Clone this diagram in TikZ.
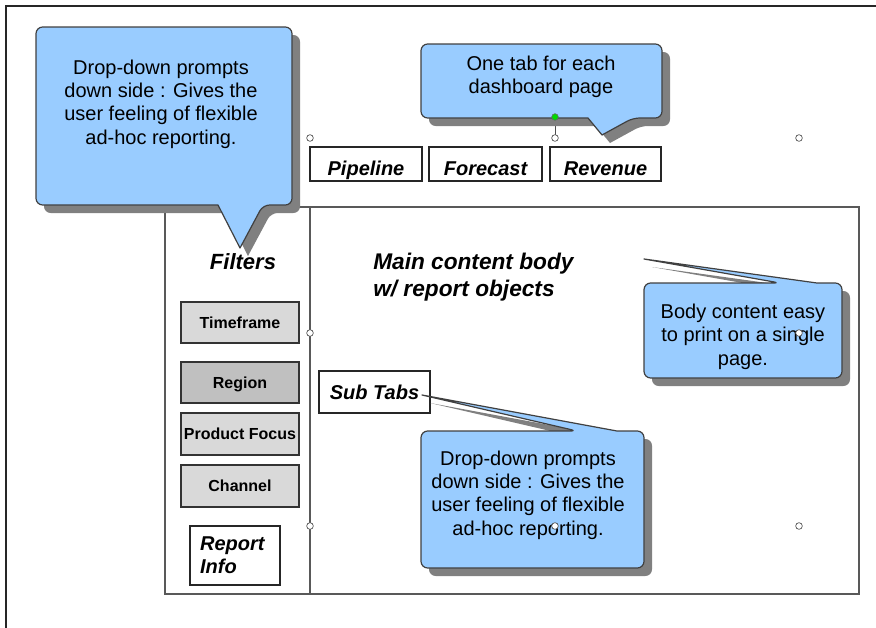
\documentclass[tikz,border=0pt]{standalone}
\usepackage{fontspec}
\setmainfont{Liberation Sans}
\definecolor{callblue}{HTML}{99CCFF}
\definecolor{shadowgray}{HTML}{808080}
\definecolor{btnlight}{HTML}{D9D9D9}
\definecolor{btndark}{HTML}{C0C0C0}
\definecolor{edge}{HTML}{404040}
\tikzset{
  callout/.style={draw=edge, line width=0.9pt, fill=callblue, line join=round},
  calloutshadow/.style={fill=shadowgray, draw=none},
  calltext/.style={align=center, font=\fontsize{15}{17.5}\selectfont, inner sep=0pt},
  tabbox/.style={draw=black!85, line width=0.8pt, fill=white, inner sep=0pt,
    font=\fontsize{15}{17}\selectfont\bfseries\itshape},
  btn/.style={draw=black!80, line width=0.9pt, fill=btnlight, inner sep=0pt,
    minimum width=88.5pt, text height=8.7pt, text depth=0pt,
    font=\fontsize{12}{14}\selectfont\bfseries},
  handle/.style={circle, draw=black!70, fill=white, line width=0.5pt, inner sep=0pt, minimum size=5pt},
}
\begin{document}
\begin{tikzpicture}[x=0.75pt,y=-0.75pt]
\useasboundingbox (0,0) rectangle (876,628);
% outer frame (only top and left visible)
\draw[line width=1.6pt, black!85] (876,6) -- (6,6) -- (6,628);
% main content rectangle and divider
\draw[line width=1pt, black!65] (165,207) rectangle (859,594);
\draw[line width=1pt, black!65] (310,207) -- (310,594);

% tabs
\node[tabbox, minimum width=84pt, minimum height=25.5pt, text height=17pt, text depth=0pt] (pipe) at (366,164) {Pipeline};
\node[tabbox, minimum width=84.75pt, minimum height=25.5pt, text height=17pt, text depth=0pt] (fore) at (485.5,164) {Forecast};
\node[tabbox, minimum width=83.25pt, minimum height=25.5pt, text height=17pt, text depth=0pt] (rev) at (605.5,164) {Revenue};

% filters
\node[font=\fontsize{16.5}{19}\selectfont\bfseries\itshape] (filters) at (243,262) {Filters};
\node[btn, minimum height=30.75pt] (time) at (240,322.5) {Timeframe};
\node[btn, fill=btndark, minimum height=30.75pt] (region) at (240,382.5) {Region};
\node[btn, minimum height=31.5pt] (prod) at (240,434) {Product Focus};
\node[btn, minimum height=31.5pt] (chan) at (240,486) {Channel};
\node[tabbox, minimum width=67.5pt, minimum height=44.25pt, align=left,
      font=\fontsize{15}{17}\selectfont\bfseries\itshape] (info) at (235,555.5)
      {\hspace*{-4pt}Report\\\hspace*{-4pt}Info};

% main content text
\node[anchor=west, align=left, inner sep=0pt,
      font=\fontsize{17}{20.25}\selectfont\bfseries\itshape] (main) at (373,277)
      {Main content body\\w/ report objects};

% sub tabs
\node[tabbox, minimum width=83.25pt, minimum height=31.5pt, text height=10.6pt, text depth=0pt] (sub) at (374.5,392) {Sub Tabs};

% selection handles
\draw[black!70, line width=0.5pt] (555,117) -- (555,136);
\node[handle] (h1) at (310,138) {};
\node[handle] (h2) at (555,138) {};
\node[handle] (h3) at (799,138) {};
\node[handle] (h4) at (310,333) {};
\node[handle] (h6) at (310,526) {};
\node[handle] (h7) at (555,526) {};
\node[handle] (h8) at (799,526) {};

% ---- callout: top left
\begin{scope}[shift={(8,8)}]
\fill[calloutshadow] (240,248) -- (218,205) [rounded corners=5] -- (36,205) -- (36,27) -- (292,27) -- (292,205) -- (263,205) [sharp corners] -- cycle;
\end{scope}
\draw[callout] (240,248) -- (218,205) [rounded corners=5] -- (36,205) -- (36,27) -- (292,27) -- (292,205) -- (263,205) [sharp corners] -- cycle;
\node[calltext] (c1) at (161,104) {Drop-down prompts\\down side : Gives the\\user feeling of flexible\\ad-hoc reporting.};

% ---- callout: tabs
\begin{scope}[shift={(8,8)}]
\fill[calloutshadow] (602,135) -- (588,118) [rounded corners=5] -- (421,118) -- (421,44) -- (662,44) -- (662,118) -- (633,118) [sharp corners] -- cycle;
\end{scope}
\draw[callout] (602,135) -- (588,118) [rounded corners=5] -- (421,118) -- (421,44) -- (662,44) -- (662,118) -- (633,118) [sharp corners] -- cycle;
\node[calltext] (c2) at (541,76.5) {One tab for each\\dashboard page};
\node[circle, fill=green!85!black, draw=black!60, line width=0.4pt, inner sep=0pt, minimum size=5pt] (g) at (555,117) {};

% ---- callout: body content
\begin{scope}[shift={(8,8)}]
\fill[calloutshadow] (644,259) -- (817,283) [rounded corners=5] -- (842,283) -- (842,378) -- (644,378) -- (644,283) -- (780,283) [sharp corners] -- cycle;
\end{scope}
\draw[callout] (644,259) -- (817,283) [rounded corners=5] -- (842,283) -- (842,378) -- (644,378) -- (644,283) -- (780,283) [sharp corners] -- cycle;
\node[calltext] (c3) at (743,336.5) {Body content easy\\to print on a single\\page.};
\node[handle] (h5) at (799,333) {};

% ---- callout: sub tabs
\begin{scope}[shift={(8,8)}]
\fill[calloutshadow] (422,395) -- (617,431) [rounded corners=5] -- (644,431) -- (644,568) -- (421,568) -- (421,431) -- (577,431) [sharp corners] -- cycle;
\end{scope}
\draw[callout] (422,395) -- (617,431) [rounded corners=5] -- (644,431) -- (644,568) -- (421,568) -- (421,431) -- (577,431) [sharp corners] -- cycle;
\node[calltext] (c4) at (528,495) {Drop-down prompts\\down side : Gives the\\user feeling of flexible\\ad-hoc reporting.};
\node[handle] (h9) at (555,526) {};
\end{tikzpicture}
\end{document}
